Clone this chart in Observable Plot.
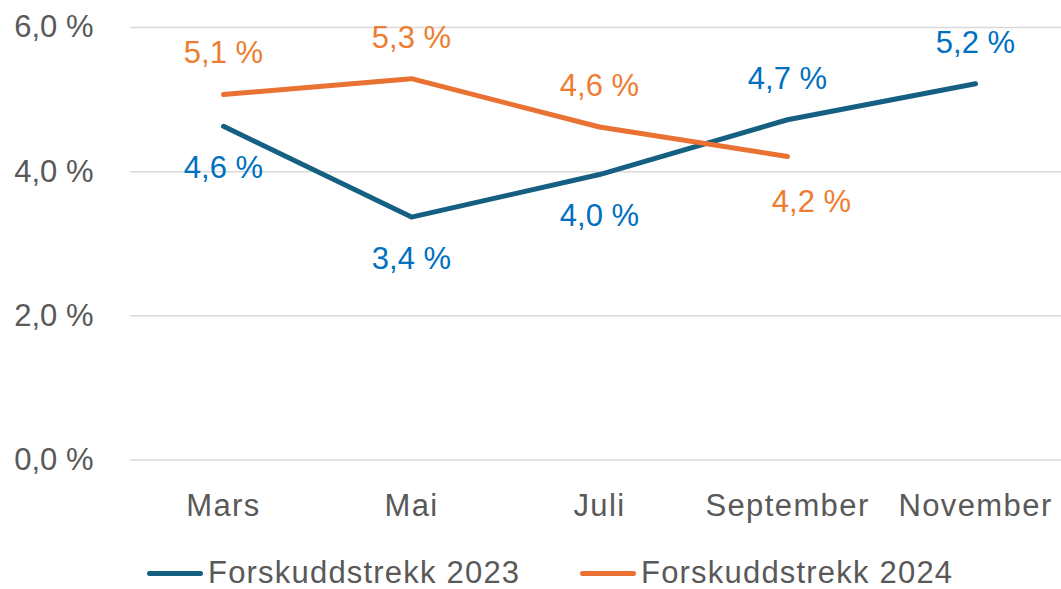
<!DOCTYPE html>
<html>
<head>
<meta charset="utf-8">
<script src="https://cdn.jsdelivr.net/npm/d3@7"></script>
<script src="https://cdn.jsdelivr.net/npm/@observablehq/plot@0.6"></script>
<style>
  html, body { margin: 0; padding: 0; background: #fff; }
  #wrap { position: relative; width: 1061px; height: 589px; overflow: hidden; font-family: "Liberation Sans", Arial, sans-serif; }
  .legend { position: absolute; top: 557px; height: 32px; line-height: 32px; display: flex; align-items: center; font-size: 31px; letter-spacing: 1.2px; color: #595959; white-space: nowrap; }
  .legend .sw { width: 56px; height: 5px; border-radius: 3px; margin-right: 5px; flex: none; }
  #wrap svg g[aria-label="x-axis tick label"] text { letter-spacing: 1.4px; }
</style>
</head>
<body>
<div id="wrap"></div>
<script>
const months = ["Mars", "Mai", "Juli", "September", "November"];
const values2023 = [4.63, 3.37, 3.96, 4.72, 5.22];
const values2024 = [5.07, 5.29, 4.62, 4.21];
const labelSide2023 = ["below", "below", "below", "above", "above"];
const labelSide2024 = ["above", "above", "above", "below"];
const yTicks = [0, 2, 4, 6];
const seriesNames = ["Forskuddstrekk 2023", "Forskuddstrekk 2024"];

const lineColor = {"2023": "#156082", "2024": "#E97132"};
const labelColor = {"2023": "#0070C0", "2024": "#ED7D31"};

const fmt = v => d3.format(".1f")(v).replace(".", ",") + " %";

const d2023 = months.map((m, i) => ({month: m, value: values2023[i], side: labelSide2023[i]}));
const d2024 = values2024.map((v, i) => ({month: months[i], value: v, side: labelSide2024[i]}));

const W = 1061, H = 540;
const chart = Plot.plot({
  width: W,
  height: H,
  marginLeft: 222,
  marginRight: 86,
  marginTop: 27,
  marginBottom: 80.5,
  style: {fontFamily: "'Liberation Sans', Arial, sans-serif", fontSize: "31px", color: "#595959", background: "#fff", overflow: "visible"},
  x: {type: "point", domain: months, padding: 0, label: null},
  y: {domain: [0, 6], label: null},
  marks: [
    Plot.ruleY(yTicks, {stroke: "#d9d9d9", strokeWidth: 1.5, insetLeft: -92, insetRight: -86}),
    Plot.axisY(yTicks, {tickSize: 0, tickPadding: 129, tickFormat: fmt, fill: "#595959", fontSize: 31, label: null}),
    Plot.axisX({tickSize: 0, tickPadding: 34, fill: "#595959", fontSize: 31, label: null}),
    Plot.line(d2023, {x: "month", y: "value", stroke: lineColor["2023"], strokeWidth: 5, strokeLinecap: "round", strokeLinejoin: "round"}),
    Plot.line(d2024, {x: "month", y: "value", stroke: lineColor["2024"], strokeWidth: 5, strokeLinecap: "round", strokeLinejoin: "round"}),
    Plot.text(d2023.filter(d => d.side === "below"), {x: "month", y: "value", text: d => fmt(d.value), fill: labelColor["2023"], dy: 42, fontSize: 31}),
    Plot.text(d2023.filter(d => d.side === "above"), {x: "month", y: "value", text: d => fmt(d.value), fill: labelColor["2023"], dy: -41, fontSize: 31}),
    Plot.text(d2024.filter(d => d.side === "below"), {x: "month", y: "value", text: d => fmt(d.value), fill: labelColor["2024"], dx: 24, dy: 46, fontSize: 31}),
    Plot.text(d2024.filter(d => d.side === "above"), {x: "month", y: "value", text: d => fmt(d.value), fill: labelColor["2024"], dy: -41, fontSize: 31})
  ]
});
const wrap = document.getElementById("wrap");
wrap.appendChild(chart);

const legendPos = [147, 580];
seriesNames.forEach((name, i) => {
  const key = i === 0 ? "2023" : "2024";
  const item = document.createElement("div");
  item.className = "legend";
  item.style.left = legendPos[i] + "px";
  const sw = document.createElement("span");
  sw.className = "sw";
  sw.style.background = lineColor[key];
  const tx = document.createElement("span");
  tx.textContent = name;
  item.appendChild(sw);
  item.appendChild(tx);
  wrap.appendChild(item);
});
</script>
</body>
</html>
